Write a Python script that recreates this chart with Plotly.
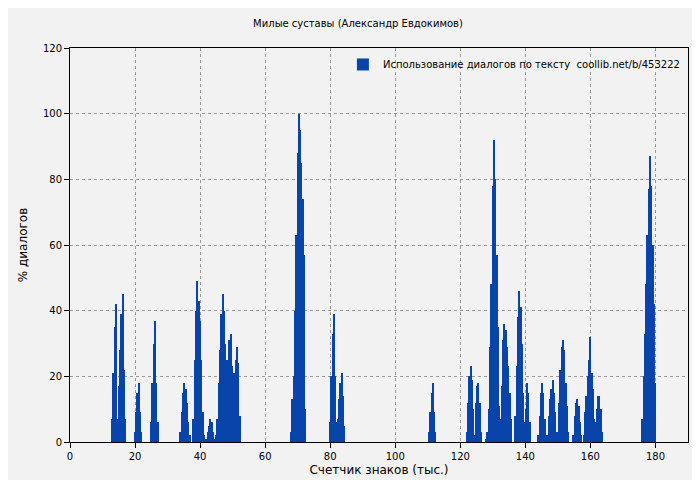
import plotly.graph_objects as go

cluster_starts = [13.0, 20.0, 25.0, 34.0, 38.0, 42.0, 45.0, 68.0, 80.0, 110.4, 122.0, 128.0,
                  132.4, 137.0, 144.0, 146.8, 150.0, 154.8, 158.0, 176.0]
c01 = [7, 21, 35, 42, 7, 17, 28, 39, 45, 22, 7]
c02 = [3, 9, 15, 18, 9, 3]
c03 = [6, 18, 30, 37, 18, 6]
c04 = [3, 9, 15, 18, 16, 12, 6, 2]
c05 = [7, 25, 40, 49, 43, 37, 25, 9, 2]
c06 = [1, 3, 5, 7, 6, 3, 1]
c07 = [2, 7, 18, 28, 39, 45, 40, 30, 25, 22, 31, 33, 23, 10, 21, 25, 29, 24, 8]
c08 = [3, 13, 20, 40, 63, 88, 100, 95, 85, 74, 57, 10]
c09 = [6, 20, 33, 39, 20, 6, 7, 13, 18, 21, 14, 5]
c10 = [3, 9, 15, 18, 9, 3]
c11 = [3, 12, 20, 23, 19, 10, 2, 12, 17, 18, 12, 3]
c12 = [1, 3, 10, 29, 48, 78, 92, 80, 57, 35, 11]
c13 = [7, 17, 31, 36, 34, 29, 23, 15, 7]
c14 = [8, 23, 38, 46, 41, 30, 15, 6, 10, 18, 15, 6]
c15 = [2, 8, 15, 18, 15, 7, 2]
c16 = [2, 8, 13, 16, 19, 15, 9, 3]
c17 = [3, 12, 22, 29, 31, 28, 18, 11, 3]
c18 = [2, 8, 12, 13, 11, 6, 2]
c19 = [2, 9, 14, 20, 25, 32, 21, 16, 7, 6, 10, 14, 14, 10, 3]
c20 = [7, 20, 33, 48, 63, 77, 87, 78, 60, 42, 18]
clusters = [c01, c02, c03, c04, c05, c06, c07, c08, c09, c10, c11, c12, c13, c14, c15,
            c16, c17, c18, c19, c20]
STEP = 0.4

xs, ys = [], []
for s, vals in zip(cluster_starts, clusters):
    for i, v in enumerate(vals):
        xs.append(round(s + i * STEP, 2))
        ys.append(v)

color = "#0844aa"
fig = go.Figure()
fig.add_trace(go.Bar(x=xs, y=ys, width=STEP * 1.05, marker=dict(color=color, line=dict(width=0)),
                     name="Использование диалогов по тексту  coollib.net/b/453222"))
fig.update_layout(
    width=700, height=480,
    paper_bgcolor="#f2f2f2", plot_bgcolor="#f2f2f2",
    font=dict(family="DejaVu Sans", size=10, color="#000"),
    margin=dict(l=62, r=20, t=40, b=46),
    title=dict(text="Милые суставы (Александр Евдокимов)", x=0.5, xanchor="center",
               y=0.975, yanchor="top", font=dict(size=10)),
    bargap=0,
    showlegend=True,
    legend=dict(x=0.995, xanchor="right", y=0.995, yanchor="top", bgcolor="rgba(0,0,0,0)",
                font=dict(size=10)),
    xaxis=dict(range=[0, 190], dtick=20, showgrid=True, gridcolor="#999", griddash="dot",
               zeroline=False, showline=True, linecolor="#000", mirror=True, ticks="outside",
               ticklen=5, tickcolor="#000", automargin=False,
               title=dict(text="Счетчик знаков (тыс.)", standoff=4)),
    yaxis=dict(range=[0, 120], dtick=20, showgrid=True, gridcolor="#999", griddash="dot",
               zeroline=False, showline=True, linecolor="#000", mirror=True, ticks="outside",
               ticklen=5, tickcolor="#000", automargin=False,
               title=dict(text="% диалогов", standoff=12)),
)
fig.write_html("out.html")
